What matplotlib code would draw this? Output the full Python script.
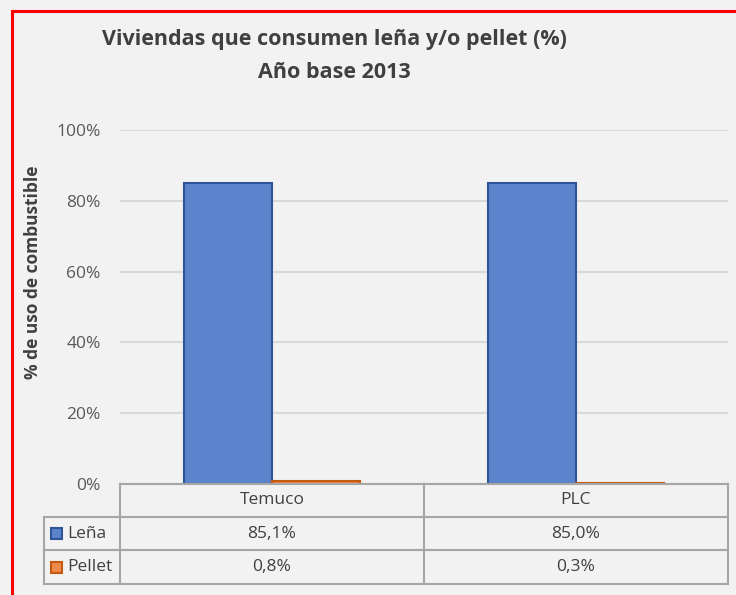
import matplotlib
matplotlib.use("Agg")
import matplotlib.pyplot as plt
from matplotlib.patches import Rectangle
from matplotlib.lines import Line2D
import numpy as np

# Datos
ciudades = ["Temuco", "PLC"]
series = ["Leña", "Pellet"]
lena = [85.1, 85.0]
pellet = [0.8, 0.3]
yticks = [0, 20, 40, 60, 80, 100]

plt.rcParams['font.family'] = ['Open Sans', 'DejaVu Sans']

W, H = 736, 595
fig = plt.figure(figsize=(W / 100, H / 100), dpi=100)
fig.patch.set_facecolor('#F2F2F2')

# borde rojo (solo se ven lado izquierdo y superior)
fig.add_artist(Line2D([11.5 / W, 11.5 / W], [0, 1 - 10.5 / H], color='red', lw=2.2,
                      transform=fig.transFigure))
fig.add_artist(Line2D([11.5 / W, 1], [1 - 10.5 / H, 1 - 10.5 / H], color='red', lw=2.2,
                      transform=fig.transFigure))

left, right, top, bottom = 120, 728, 130, 484
ax = fig.add_axes([left / W, 1 - bottom / H, (right - left) / W, (bottom - top) / H])
ax.set_facecolor('#F2F2F2')

x = np.arange(len(ciudades))
width = 0.29
colores = ['#5B84CD', '#EE8A4B']
bordes = ['#2F5597', '#C55A11']
ax.bar(x - width / 2, lena, width, color=colores[0], edgecolor=bordes[0], linewidth=1.5, zorder=3)
ax.bar(x + width / 2, pellet, width, color=colores[1], edgecolor=bordes[1], linewidth=1.5, zorder=3)

ax.set_xlim(-0.5, len(ciudades) - 0.5)
ax.set_ylim(0, 100)
ax.set_yticks(yticks)
ax.set_yticklabels([f"{v}%" for v in yticks], fontsize=12.5, color='#595959')
ax.tick_params(axis='y', length=0, pad=14)
ax.set_xticks([])
for s in ax.spines.values():
    s.set_visible(False)
ax.grid(axis='y', color='#D9D9D9', linewidth=1.5, zorder=0)

# Título del eje Y
fig.text(33 / W, 1 - 272 / H, '% de uso de combustible', rotation=90, ha='center',
         va='center', fontsize=12.5, fontweight='bold', color='#404040')

# Título
fig.text(334 / W, 1 - 45 / H, 'Viviendas que consumen leña y/o pellet (%)', ha='center',
         va='baseline', fontsize=15.5, fontweight='bold', color='#404040')
fig.text(334 / W, 1 - 78 / H, 'Año base 2013', ha='center', va='baseline',
         fontsize=15.5, fontweight='bold', color='#404040')

# Tabla de datos
gris = '#A6A6A6'
lw_t = 1.5
tabla_left = 44
filas = [484, 517, 550, 584]
ft = fig.transFigure


def px(xp, yp):
    return xp / W, 1 - yp / H


def hline(x0, x1, y):
    a, b = px(x0, y)
    c, _ = px(x1, y)
    fig.add_artist(Line2D([a, c], [b, b], color=gris, lw=lw_t, transform=ft, zorder=5))


def vline(xp, y0, y1):
    a, b = px(xp, y0)
    _, d = px(xp, y1)
    fig.add_artist(Line2D([a, a], [b, d], color=gris, lw=lw_t, transform=ft, zorder=5))


hline(left, right, filas[0])
for y in filas[1:]:
    hline(tabla_left, right, y)
ncat = len(ciudades)
cw = (right - left) / ncat
for i in range(ncat + 1):
    vline(left + i * cw, filas[0], filas[-1])
vline(tabla_left, filas[1], filas[-1])

for i, c in enumerate(ciudades):
    cx = left + (i + 0.5) * cw
    fig.text(*px(cx, (filas[0] + filas[1]) / 2), c, ha='center', va='center',
             fontsize=12.5, color='#404040')
    for j, vals in enumerate([lena, pellet]):
        txt = f"{vals[i]:.1f}%".replace('.', ',')
        fig.text(*px(cx, (filas[j + 1] + filas[j + 2]) / 2), txt, ha='center',
                 va='center', fontsize=12.5, color='#404040')

for j, s in enumerate(series):
    yc = (filas[j + 1] + filas[j + 2]) / 2
    sx, sy = px(51, yc + 5.5)
    fig.add_artist(Rectangle((sx, sy), 11 / W, 11 / H, transform=ft, facecolor=colores[j],
                             edgecolor=bordes[j], lw=1.5, zorder=6))
    fig.text(*px(67, yc), s, ha='left', va='center', fontsize=12.5, color='#404040')

fig.savefig('out.png', dpi=100, facecolor=fig.get_facecolor())
